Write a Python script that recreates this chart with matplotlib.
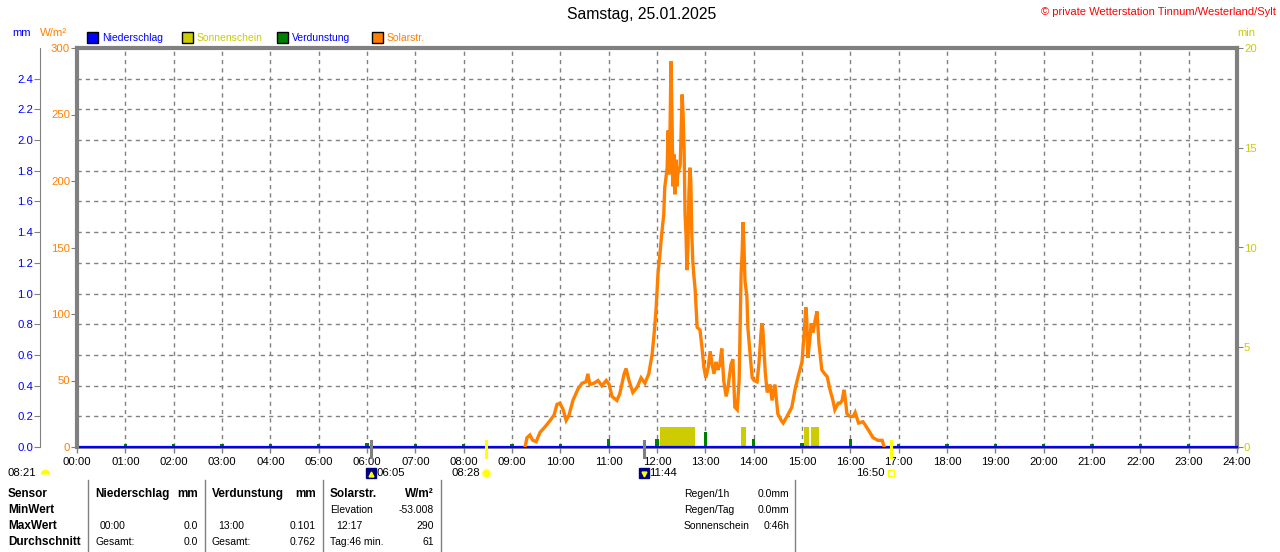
import matplotlib
matplotlib.use("Agg")
import matplotlib.pyplot as plt
import matplotlib.patches as patches
import matplotlib.transforms as mtransforms

W, H = 1280, 552

# ---- data ----
hours = list(range(25))
hour_labels = ["%02d:00" % h for h in hours]

# solar radiation, W/m2 (time in decimal hours)
solar_t = [9.27, 9.31, 9.37, 9.43, 9.50, 9.58, 9.68, 9.79, 9.87, 9.93, 9.99, 10.06,
           10.12, 10.18, 10.26, 10.37, 10.45, 10.53, 10.57, 10.61, 10.70, 10.78, 10.86,
           10.95, 11.01, 11.07, 11.17, 11.23, 11.32, 11.36, 11.42, 11.50, 11.59, 11.67,
           11.75, 11.83, 11.90, 11.94, 11.98, 12.02, 12.06, 12.10, 12.14, 12.16, 12.21,
           12.23, 12.25, 12.27, 12.29, 12.31, 12.33, 12.35, 12.37, 12.39, 12.41, 12.43,
           12.48, 12.50, 12.52, 12.54, 12.56, 12.58, 12.60, 12.62, 12.64, 12.66, 12.68,
           12.70, 12.72, 12.74, 12.76, 12.79, 12.83, 12.89, 12.93, 12.97, 13.01, 13.06,
           13.10, 13.14, 13.18, 13.22, 13.26, 13.30, 13.34, 13.38, 13.43, 13.47, 13.53,
           13.57, 13.61, 13.66, 13.70, 13.74, 13.76, 13.78, 13.80, 13.82, 13.86, 13.88,
           13.93, 13.97, 14.01, 14.07, 14.11, 14.15, 14.17, 14.19, 14.24, 14.28, 14.34,
           14.38, 14.44, 14.50, 14.57, 14.61, 14.69, 14.79, 14.86, 14.92, 15.00, 15.04,
           15.08, 15.10, 15.12, 15.16, 15.19, 15.23, 15.27, 15.31, 15.33, 15.35, 15.41,
           15.47, 15.52, 15.58, 15.64, 15.68, 15.75, 15.79, 15.83, 15.87, 15.89, 15.93,
           15.99, 16.06, 16.10, 16.17, 16.26, 16.30, 16.37, 16.47, 16.57, 16.66, 16.70]
solar_v = [0, 7, 9, 5, 4, 11, 15, 20, 24, 32, 33, 28,
           20, 24, 35, 44, 48, 49, 55, 47, 48, 50, 46,
           50, 47, 38, 35, 40, 55, 59, 50, 41, 45, 52,
           48, 55, 70, 85, 103, 130, 145, 161, 175, 195, 210,
           238, 205, 240, 290, 250, 196, 220, 190, 216, 196, 205,
           212, 240, 265, 250, 225, 175, 160, 133, 150, 190, 210,
           200, 160, 140, 130, 118, 90, 88, 75, 60, 52, 60,
           72, 62, 55, 64, 58, 62, 74, 50, 38, 45, 62,
           66, 30, 28, 50, 130, 145, 169, 150, 125, 113, 90,
           68, 52, 50, 49, 63, 85, 93, 88, 56, 41, 47,
           35, 47, 25, 20, 18, 23, 30, 44, 53, 64, 83,
           105, 95, 67, 80, 93, 86, 95, 102, 90, 78, 58,
           55, 53, 43, 35, 28, 33, 33, 35, 43, 38, 25,
           23, 23, 26, 18, 19, 17, 13, 7, 5, 5, 0]

# sunshine, minutes
sun_start = [12.06, 13.74, 15.04, 15.19]
sun_end = [12.79, 13.84, 15.15, 15.35]
sun_min = [1.0, 1.0, 1.0, 1.0]

# evaporation, mm per hour
evap_h = list(range(24))
evap_mm = [0.02, 0.02, 0.02, 0.02, 0.02, 0.02, 0.025, 0.02, 0.02, 0.02, 0.02, 0.05,
           0.05, 0.101, 0.05, 0.025, 0.05, 0.02, 0.02, 0.02, 0.02, 0.02, 0.02, 0.02]

# precipitation, mm
rain_h = [0, 24]
rain_mm = [0.0, 0.0]

# sun / moon events
event_t = [6.083, 8.467, 11.733, 16.833]
event_lbl = ["06:05", "08:28", "11:44", "16:50"]
event_kind = ["moonrise", "sunrise", "moonset", "sunset"]

ORANGE = "#ff8000"
YELLOW = "#cccc00"
GREEN = "#008000"
BLUE = "#0000ff"
GRAY = "#808080"
FS = 7.5
TICK_FS = 8.2
BOLD_FS = 8.5

plt.rcParams["font.family"] = ["Liberation Sans", "DejaVu Sans"]
plt.rcParams["font.size"] = FS


def fx(x):
    return x / W


def fy(y):
    return 1 - y / H


fig = plt.figure(figsize=(12.8, 5.52), dpi=100, facecolor="white")
ax_mm = fig.add_axes([fx(77), fy(447), 1160 / W, 399 / H])
ax_min = ax_mm.twinx()
ax_sol = ax_mm.twinx()
ax_min.set_zorder(1)
ax_mm.set_zorder(2)
ax_sol.set_zorder(3)
ax_mm.patch.set_visible(False)

# mm axis (precip / evap)
ax_mm.set_xlim(0, 24)
ax_mm.set_ylim(0, 2.6)
ax_mm.set_xticks(hours)
ax_mm.set_xticklabels(hour_labels)
ax_mm.set_yticks([i * 0.2 for i in range(13)])
ax_mm.set_yticklabels(["%.1f" % (i * 0.2) for i in range(13)])
ax_mm.yaxis.tick_left()
ax_mm.tick_params(axis="y", length=4, color=GRAY, labelcolor=BLUE, pad=1,
                  labelsize=TICK_FS)
ax_mm.tick_params(axis="x", length=4, color=GRAY, labelcolor="black", pad=3,
                  width=1, labelsize=TICK_FS)
ax_mm.grid(True, color=GRAY, ls=(0, (3, 3)), lw=1)
ax_mm.set_axisbelow(True)
for s in ["top", "right"]:
    ax_mm.spines[s].set_visible(False)
ax_mm.spines["left"].set_position(("axes", -37 / 1160))
ax_mm.spines["left"].set_color(GRAY)
ax_mm.spines["bottom"].set_color(GRAY)
ax_mm.spines["bottom"].set_linewidth(2)

ax_mm.bar(evap_h, evap_mm, width=0.07, color=GREEN, zorder=3)
ax_mm.plot(rain_h, rain_mm, color=BLUE, lw=1.6, zorder=4, clip_on=False)

# minutes axis (sunshine)
ax_min.set_ylim(0, 20)
ax_min.set_yticks([0, 5, 10, 15, 20])
ax_min.tick_params(axis="y", length=4, color=GRAY, labelcolor=YELLOW, pad=1,
                   labelsize=TICK_FS)
for s in ["top", "left", "bottom"]:
    ax_min.spines[s].set_visible(False)
ax_min.spines["right"].set_color(GRAY)
ax_min.spines["right"].set_linewidth(3)
ax_min.bar(sun_start, sun_min, width=[e - s for s, e in zip(sun_start, sun_end)],
           align="edge", color=YELLOW)

# solar axis
ax_sol.set_ylim(0, 300)
ax_sol.set_yticks([0, 50, 100, 150, 200, 250, 300])
ax_sol.yaxis.tick_left()
ax_sol.yaxis.set_label_position("left")
ax_sol.tick_params(axis="y", length=4, color=GRAY, labelcolor=ORANGE, pad=1,
                   labelsize=TICK_FS)
for s in ["right", "bottom"]:
    ax_sol.spines[s].set_visible(False)
for s in ["left", "top"]:
    ax_sol.spines[s].set_visible(True)
    ax_sol.spines[s].set_color(GRAY)
    ax_sol.spines[s].set_linewidth(3)
ax_sol.plot(solar_t, solar_v, color=ORANGE, lw=2.4, solid_joinstyle="miter")

# title, units, legend
fig.text(fx(642), fy(15), "Samstag, 25.01.2025", ha="center", va="center", fontsize=11.3)
fig.text(fx(1276), fy(12), "\u00a9 private Wetterstation Tinnum/Westerland/Sylt",
         ha="right", va="center", color="red", fontsize=8)
fig.text(fx(22), fy(33), "mm", ha="center", va="center", color=BLUE, fontsize=8)
fig.text(fx(54), fy(33), "W/m\u00b2", ha="center", va="center", color=ORANGE, fontsize=8.2)
fig.text(fx(1246), fy(33), "min", ha="center", va="center", color=YELLOW, fontsize=8)

legend_names = ["Niederschlag", "Sonnenschein", "Verdunstung", "Solarstr."]
legend_box = [BLUE, YELLOW, GREEN, ORANGE]
legend_txt = [BLUE, YELLOW, BLUE, ORANGE]
legend_x = [87, 182, 277, 372]
for name, bc, tc, lx in zip(legend_names, legend_box, legend_txt, legend_x):
    fig.add_artist(patches.Rectangle((fx(lx), fy(43)), 11 / W, 11 / H,
                                     transform=fig.transFigure, facecolor=bc,
                                     edgecolor="black", lw=1))
    fig.text(fx(lx + 15), fy(38), name, ha="left", va="center", color=tc)

# sun / moon markers below the axis
blend = mtransforms.blended_transform_factory(ax_mm.transData, fig.transFigure)
for t, lbl, kind in zip(event_t, event_lbl, event_kind):
    mark_col = "#ffff00" if kind.startswith("sun") else GRAY
    ax_mm.plot([t, t], [fy(441), fy(457)], transform=blend, color=mark_col,
               lw=2.2, clip_on=False, zorder=6)
    if kind.startswith("moon"):
        ax_mm.plot([t], [fy(473)], transform=blend, marker="s", ms=6.5,
                   color="#000080", clip_on=False)
        ax_mm.plot([t], [fy(474)], transform=blend,
                   marker="^" if kind == "moonrise" else "v", ms=3.5,
                   color="#ffff00", clip_on=False)
        ax_mm.annotate(lbl, xy=(t, fy(473)), xycoords=blend, xytext=(5, 0),
                       textcoords="offset pixels", ha="left", va="center",
                       fontsize=TICK_FS)
    elif kind == "sunrise":
        ax_mm.plot([t], [fy(473)], transform=blend, marker="o", ms=6,
                   markerfacecolor="#ffff00", markeredgecolor="#ffff80",
                   clip_on=False)
        ax_mm.annotate(lbl, xy=(t, fy(473)), xycoords=blend, xytext=(-6, 0),
                       textcoords="offset pixels", ha="right", va="center",
                       fontsize=TICK_FS)
    else:
        ax_mm.plot([t], [fy(473)], transform=blend, marker="s", ms=4,
                   markerfacecolor="none", markeredgecolor="#ffff00",
                   clip_on=False)
        ax_mm.annotate(lbl, xy=(t, fy(473)), xycoords=blend, xytext=(-6, 0),
                       textcoords="offset pixels", ha="right", va="center",
                       fontsize=TICK_FS)

fig.text(fx(8), fy(473), "08:21", ha="left", va="center", fontsize=TICK_FS)
fig.lines.append(plt.Line2D([fx(45)], [fy(474)], transform=fig.transFigure,
                            marker="o", ms=7, fillstyle="top",
                            markerfacecolor="#ffff00", markerfacecoloralt="none",
                            markeredgecolor="none"))

# statistics table
for sx in [88, 205, 323, 441, 795]:
    fig.lines.append(plt.Line2D([fx(sx), fx(sx)], [fy(480), fy(552)],
                                transform=fig.transFigure, color=GRAY, lw=1))

row_y = [494, 510, 526, 542]
for lbl, ry in zip(["Sensor", "MinWert", "MaxWert", "Durchschnitt"], row_y):
    fig.text(fx(8), fy(ry), lbl, ha="left", va="center", fontweight="bold",
             fontsize=BOLD_FS)

cells = [
    # (x, row, text, align, bold)
    (95, 0, "Niederschlag", "left", True), (198, 0, "mm", "right", True),
    (100, 2, "00:00", "left", False), (198, 2, "0.0", "right", False),
    (95, 3, "Gesamt:", "left", False), (198, 3, "0.0", "right", False),
    (212, 0, "Verdunstung", "left", True), (316, 0, "mm", "right", True),
    (218, 2, "13:00", "left", False), (316, 2, "0.101", "right", False),
    (212, 3, "Gesamt:", "left", False), (316, 3, "0.762", "right", False),
    (330, 0, "Solarstr.", "left", True), (434, 0, "W/m\u00b2", "right", True),
    (330, 1, "Elevation", "left", False), (434, 1, "-53.008", "right", False),
    (336, 2, "12:17", "left", False), (434, 2, "290", "right", False),
    (330, 3, "Tag:46 min.", "left", False), (434, 3, "61", "right", False),
    (684, 0, "Regen/1h", "left", False), (789, 0, "0.0mm", "right", False),
    (684, 1, "Regen/Tag", "left", False), (789, 1, "0.0mm", "right", False),
    (684, 2, "Sonnenschein", "left", False), (789, 2, "0:46h", "right", False),
]
for cx, row, txt, al, bold in cells:
    fig.text(fx(cx), fy(row_y[row]), txt, ha=al, va="center",
             fontweight="bold" if bold else "normal",
             fontsize=BOLD_FS if bold else FS)

fig.savefig("out.png", dpi=100, facecolor="white")
